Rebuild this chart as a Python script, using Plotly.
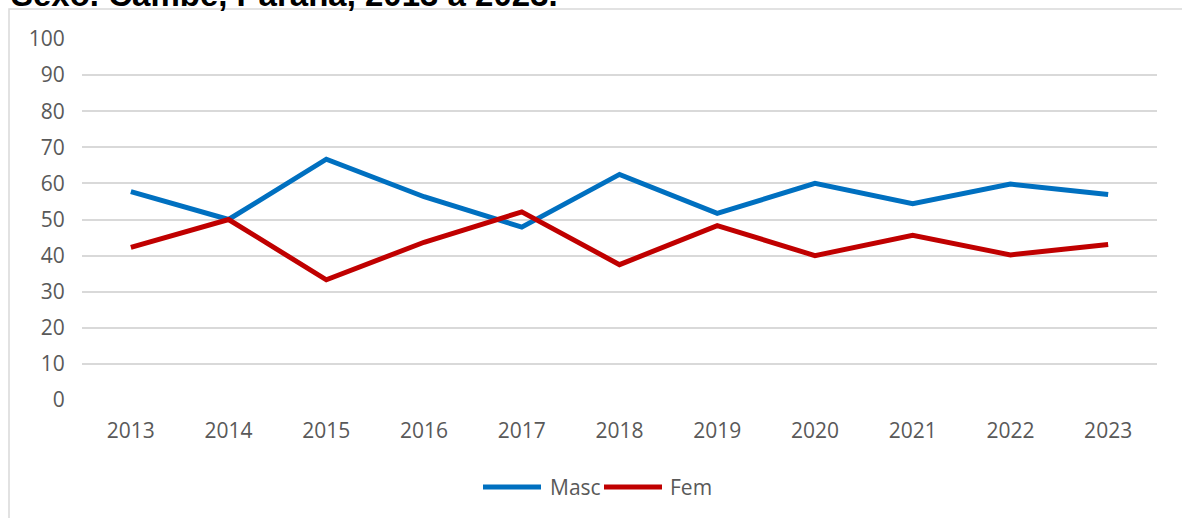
import plotly.graph_objects as go

# Proportion by sex, Cambé (PR), 2013-2023
years = ["2013", "2014", "2015", "2016", "2017", "2018", "2019", "2020", "2021", "2022", "2023"]
masc = [57.7, 50.0, 66.7, 56.3, 47.9, 62.5, 51.7, 60.0, 54.4, 59.8, 56.9]
fem = [42.3, 50.0, 33.3, 43.7, 52.1, 37.5, 48.3, 40.0, 45.6, 40.2, 43.1]
series_names = ["Masc", "Fem"]
series_colors = ["#0070C0", "#C00000"]
y_ticks = list(range(0, 101, 10))
title_text = "Sexo. Cambé, Paraná, 2013 a 2023."

W, H = 1182, 518
ML, MR, MT, MB = 82, 25, 39, 118
PW, PH = W - ML - MR, H - MT - MB


def px_x(x):
    return (x - ML) / PW


def px_y(y):
    return (H - MB - y) / PH


tick_font = dict(family="Open Sans, Lato, sans-serif", size=21, color="#595959")

fig = go.Figure()
for name, vals, col in zip(series_names, [masc, fem], series_colors):
    fig.add_trace(go.Scatter(
        x=years, y=vals, name=name, mode="lines",
        line=dict(color=col, width=5),
        showlegend=False,
    ))

shapes = [
    # chart frame (left and top edges visible)
    dict(type="rect", xref="paper", yref="paper",
         x0=px_x(9), x1=px_x(1190), y0=px_y(530), y1=px_y(9),
         line=dict(color="#D9D9D9", width=1.5), fillcolor="rgba(0,0,0,0)", layer="below"),
]
annotations = [
    dict(text="<b>" + title_text + "</b>", xref="paper", yref="paper",
         x=px_x(9), y=px_y(-6), xanchor="left", yanchor="middle", showarrow=False,
         font=dict(family="Liberation Sans, Arial, sans-serif", size=33, color="#000000")),
]

# legend drawn below the axis
legend_y = px_y(487)
legend_items = [(483, 541, 548), (604, 662, 668)]
for (lx0, lx1, tx), name, col in zip(legend_items, series_names, series_colors):
    shapes.append(dict(type="line", xref="paper", yref="paper",
                       x0=px_x(lx0), x1=px_x(lx1), y0=legend_y, y1=legend_y,
                       line=dict(color=col, width=5)))
    annotations.append(dict(text=name, xref="paper", yref="paper",
                            x=px_x(tx), y=legend_y, xanchor="left", yanchor="middle",
                            showarrow=False, font=tick_font))

fig.update_layout(
    width=W, height=H,
    margin=dict(l=ML, r=MR, t=MT, b=MB, pad=0),
    paper_bgcolor="white", plot_bgcolor="white",
    shapes=shapes, annotations=annotations,
    xaxis=dict(type="category", range=[-0.5, len(years) - 0.5],
               showgrid=False, showline=False, zeroline=False,
               ticks="outside", ticklen=12, tickcolor="rgba(0,0,0,0)",
               tickfont=tick_font, fixedrange=True),
    yaxis=dict(range=[0, 100], tickvals=y_ticks, showgrid=True,
               gridcolor="#D9D9D9", gridwidth=1.5, zeroline=False, showline=False,
               ticks="outside", ticklen=12, tickcolor="rgba(0,0,0,0)",
               tickfont=tick_font, fixedrange=True),
)

fig.write_html("out.html", config={"displayModeBar": False})
